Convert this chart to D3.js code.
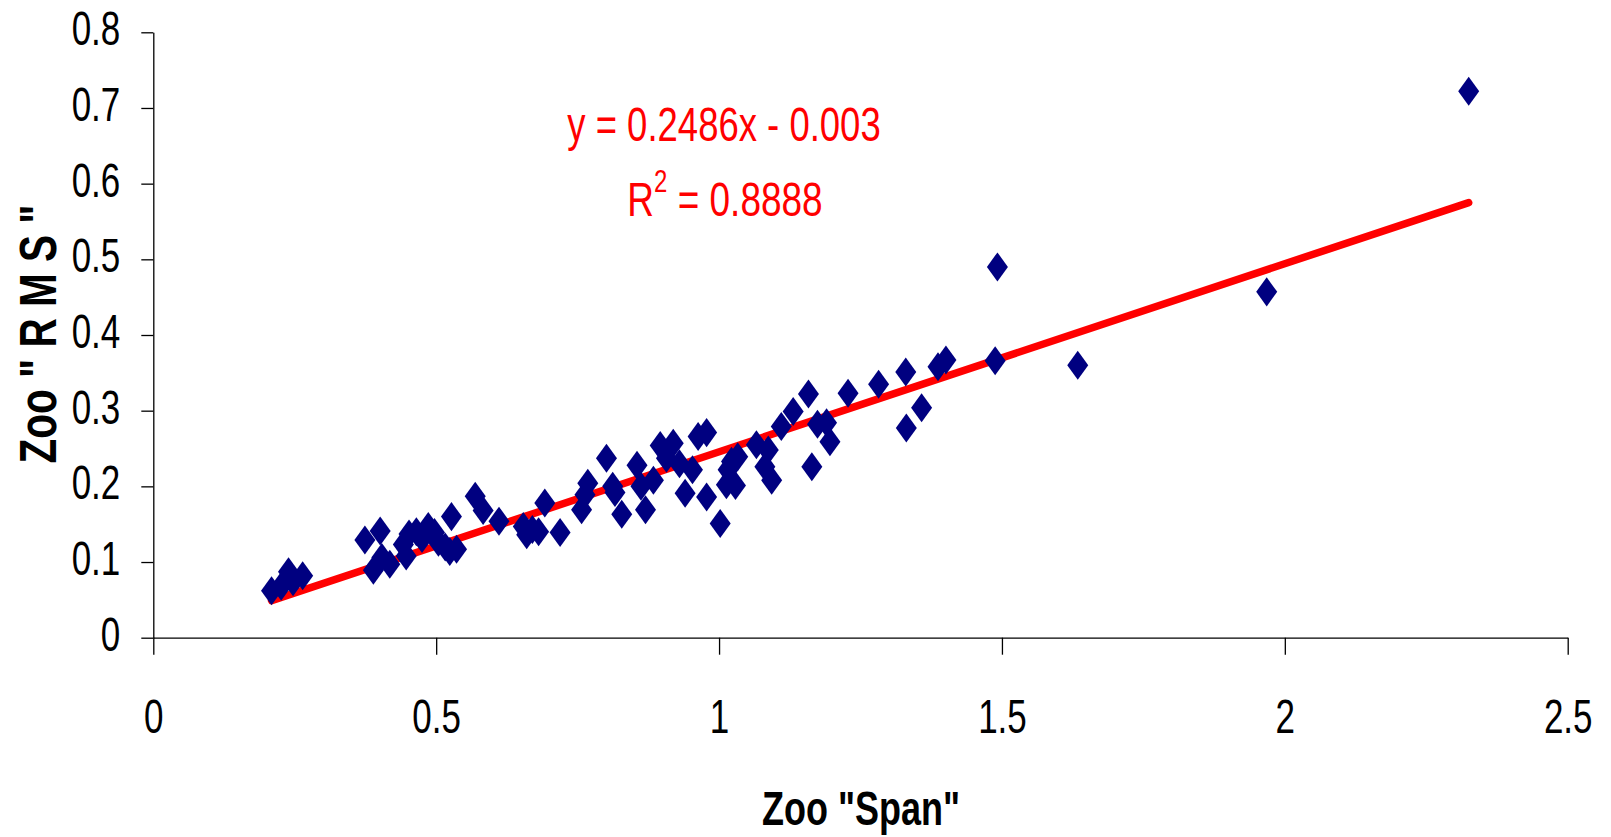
<!DOCTYPE html>
<html>
<head>
<meta charset="utf-8">
<script src="https://cdn.jsdelivr.net/npm/d3@7"></script>
<style>
  html, body { margin: 0; padding: 0; background: #fff; }
  svg { display: block; }
</style>
</head>
<body>
<svg id="chart" width="1611" height="837"></svg>
<script>
// Zoo "Span" (x) against Zoo "RMS" (y), one entry per observation
const spanValues = [
  0.209, 0.226, 0.239, 0.247, 0.264,
  0.374, 0.389, 0.401, 0.404, 0.418, 0.442, 0.447, 0.452, 0.465, 0.475,
  0.486, 0.497, 0.504, 0.516, 0.524, 0.527, 0.536,
  0.569, 0.583, 0.611, 0.654, 0.660, 0.670, 0.681, 0.692, 0.719,
  0.757, 0.763, 0.768, 0.801, 0.812, 0.816, 0.828, 0.855, 0.862, 0.870,
  0.884, 0.896, 0.907, 0.919, 0.930, 0.940, 0.953, 0.963, 0.978, 0.978,
  1.002, 1.013, 1.016, 1.022, 1.029, 1.033, 1.066, 1.081, 1.087, 1.093,
  1.110, 1.131, 1.158, 1.164, 1.174, 1.190, 1.196,
  1.228, 1.282, 1.330, 1.331, 1.358, 1.387, 1.401, 1.488, 1.492, 1.634,
  1.968, 2.325
];
const rmsValues = [
  0.062, 0.068, 0.087, 0.074, 0.082,
  0.129, 0.089, 0.141, 0.106, 0.097, 0.123, 0.108, 0.137, 0.140, 0.131,
  0.147, 0.139, 0.126, 0.120, 0.114, 0.160, 0.117,
  0.187, 0.168, 0.154, 0.147, 0.136, 0.143, 0.140, 0.178, 0.139,
  0.169, 0.189, 0.204, 0.237, 0.200, 0.192, 0.163, 0.228, 0.200, 0.169,
  0.208, 0.254, 0.237, 0.257, 0.230, 0.191, 0.222, 0.266, 0.271, 0.186,
  0.151, 0.202, 0.222, 0.233, 0.201, 0.239, 0.255, 0.226, 0.248, 0.208,
  0.279, 0.299, 0.322, 0.226, 0.282, 0.284, 0.259,
  0.323, 0.335, 0.351, 0.277, 0.304, 0.358, 0.367, 0.366, 0.490, 0.360,
  0.457, 0.722
];

// Linear trend reported for the data
const trendSlope = 0.2486;
const trendIntercept = -0.003;
const trendR2 = 0.8888;

const xTickValues = [0, 0.5, 1, 1.5, 2, 2.5];
const xTickLabels = ["0", "0.5", "1", "1.5", "2", "2.5"];
const yTickValues = [0, 0.1, 0.2, 0.3, 0.4, 0.5, 0.6, 0.7, 0.8];
const yTickLabels = ["0", "0.1", "0.2", "0.3", "0.4", "0.5", "0.6", "0.7", "0.8"];

const xTitle = 'Zoo "Span"';
const yTitle = 'Zoo " R M S "';

// ---------------------------------------------------------------
const FONT = '"Liberation Sans", Arial, Helvetica, sans-serif';
const STRETCH = 1.4;           // tall, condensed look of the lettering
const svg = d3.select("#chart");
svg.append("rect").attr("width", 1611).attr("height", 837).attr("fill", "#fff");

const x = d3.scaleLinear().domain([0, 2.5]).range([153.3, 1567.7]);
const y = d3.scaleLinear().domain([0, 0.8]).range([637.7, 32.3]);

// y axis
const gy = svg.append("g")
  .attr("transform", `translate(${x(0)},0)`)
  .call(d3.axisLeft(y)
    .tickValues(yTickValues)
    .tickFormat((d, i) => yTickLabels[i])
    .tickSize(12)
    .tickSizeOuter(0));

// x axis
const gx = svg.append("g")
  .attr("transform", `translate(0,${y(0)})`)
  .call(d3.axisBottom(x)
    .tickValues(xTickValues)
    .tickFormat((d, i) => xTickLabels[i])
    .tickSize(17)
    .tickSizeOuter(0));

[gx, gy].forEach(g => {
  g.attr("font-family", FONT).attr("font-size", 35);
  g.selectAll("path, line").attr("stroke", "#000").attr("stroke-width", 1.3);
  g.selectAll("text").attr("fill", "#000").attr("dy", null);
});

gy.selectAll(".tick text")
  .attr("x", -33)
  .attr("y", 12.5 / STRETCH)
  .attr("text-anchor", "end")
  .attr("transform", `scale(1,${STRETCH})`);

gx.selectAll(".tick text")
  .attr("x", 0)
  .attr("y", 95.5 / STRETCH)
  .attr("text-anchor", "middle")
  .attr("transform", `scale(1,${STRETCH})`);

// trend line over the observed span range
const xExtent = d3.extent(spanValues);
const trendPoints = xExtent.map(v => [v, trendSlope * v + trendIntercept]);
svg.append("path")
  .datum(trendPoints)
  .attr("fill", "none")
  .attr("stroke", "#ff0000")
  .attr("stroke-width", 7.5)
  .attr("stroke-linecap", "round")
  .attr("d", d3.line().x(d => x(d[0])).y(d => y(d[1])));

// diamond markers, slightly taller than wide
const DIAMOND_RATIO = 0.724;
const tallDiamond = {
  draw(context, size) {
    const hh = Math.sqrt(size / (2 * DIAMOND_RATIO));
    const hw = hh * DIAMOND_RATIO;
    context.moveTo(0, -hh);
    context.lineTo(hw, 0);
    context.lineTo(0, hh);
    context.lineTo(-hw, 0);
    context.closePath();
  }
};
const points = spanValues.map((v, i) => ({ span: v, rms: rmsValues[i] }));
svg.append("g")
  .selectAll("path")
  .data(points)
  .join("path")
  .attr("transform", d => `translate(${x(d.span)},${y(d.rms)})`)
  .attr("d", d3.symbol().type(tallDiamond).size(305))
  .attr("fill", "#000080");

// trend equation and R squared
const eq = svg.append("g").attr("font-family", FONT).attr("fill", "#ff0000");
eq.append("text")
  .attr("transform", `translate(724,141) scale(1,1.34)`)
  .attr("text-anchor", "middle")
  .attr("font-size", 36.5)
  .text(`y = ${trendSlope}x - ${Math.abs(trendIntercept)}`);

const r2 = eq.append("text")
  .attr("transform", `translate(725,216) scale(1,1.32)`)
  .attr("text-anchor", "middle")
  .attr("font-size", 37);
r2.append("tspan").text("R");
r2.append("tspan").attr("font-size", 24).attr("dy", -18).text("2");
r2.append("tspan").attr("dy", 18).text(` = ${trendR2}`);

// axis titles
svg.append("text")
  .attr("transform", `translate(861,825) scale(1,1.32)`)
  .attr("text-anchor", "middle")
  .attr("font-family", FONT)
  .attr("font-weight", "bold")
  .attr("font-size", 36)
  .attr("fill", "#000")
  .text(xTitle);

svg.append("text")
  .attr("transform", `translate(56,334) rotate(-90) scale(1,1.26)`)
  .attr("text-anchor", "middle")
  .attr("font-family", FONT)
  .attr("font-weight", "bold")
  .attr("font-size", 40.5)
  .attr("fill", "#000")
  .text(yTitle);
</script>
</body>
</html>
